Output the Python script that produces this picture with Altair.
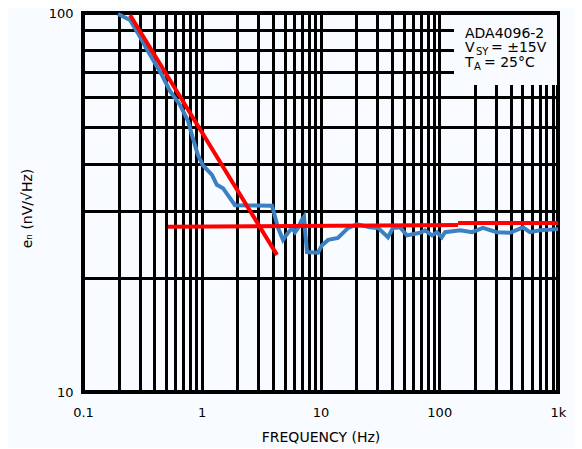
import altair as alt
import pandas as pd

# Measured noise trace (blue)
blue_f = [0.197, 0.249, 0.290, 0.352, 0.463, 0.541, 0.656, 0.766, 0.828, 0.929,
          1.02, 1.22, 1.34, 1.51, 1.905, 3.91, 4.39, 4.83, 5.32, 5.75, 6.10,
          6.47, 6.98, 7.26, 7.69, 9.53, 10.3, 11.6, 14.0, 17.1, 20.3, 26.1,
          30.5, 37.0, 40.8, 46.7, 53.4, 68.9, 75.9, 86.9, 95.7, 105, 112, 150,
          189, 233, 306, 394, 507, 581, 705, 1000]
blue_e = [99.4, 95.8, 88.5, 79.4, 68.5, 62.2, 57.2, 51.9, 47.6, 42.2,
          39.7, 37.4, 35.2, 34.5, 31.1, 31.0, 27.1, 25.2, 26.3, 27.1, 26.4,
          27.1, 28.5, 29.0, 23.4, 23.3, 24.4, 25.2, 25.5, 27.1, 27.7, 27.2,
          27.1, 25.6, 27.1, 27.2, 25.9, 26.3, 26.7, 25.9, 26.4, 25.6, 26.4, 26.7,
          26.4, 27.1, 26.4, 26.3, 27.2, 26.4, 26.7, 26.9]

# Fitted asymptotes (red)
red1_f = [0.249, 4.30]
red1_e = [98.8, 23.0]
red2_f = [0.52, 144]
red2_e = [27.3, 27.6]
red3_f = [144, 1000]
red3_e = [27.9, 27.9]

x_grid = [0.1, 0.2, 0.3, 0.4, 0.5, 0.6, 0.7, 0.8, 0.9,
          1, 2, 3, 4, 5, 6, 7, 8, 9,
          10, 20, 30, 40, 50, 60, 70, 80, 90,
          100, 200, 300, 400, 500, 600, 700, 800, 900, 1000]
x_major = [0.1, 1, 10, 100, 1000]
x_major_labels = ["0.1", "1", "10", "100", "1k"]
y_grid = [10, 20, 30, 40, 50, 60, 70, 80, 90, 100]
y_major = [10, 100]
y_major_labels = ["10", "100"]

BG = "#f8fbff"
FONT = "DejaVu Sans"


def label_expr(vals, labs):
    expr = "''"
    for v, l in reversed(list(zip(vals, labs))):
        expr = f"datum.value == {v} ? '{l}' : ({expr})"
    return expr


rows = []
for f, e in zip(blue_f, blue_e):
    rows.append({"f": f, "e": e, "series": "a_meas", "seg": "m"})
for name, fs, es in [("r1", red1_f, red1_e), ("r2", red2_f, red2_e), ("r3", red3_f, red3_e)]:
    for f, e in zip(fs, es):
        rows.append({"f": f, "e": e, "series": "b_fit", "seg": name})
df = pd.DataFrame(rows)

lines = alt.Chart(df).mark_line(strokeWidth=4).encode(
    x=alt.X("f:Q",
            scale=alt.Scale(type="log", domain=[0.1, 1000], nice=False),
            axis=alt.Axis(values=x_grid, labelExpr=label_expr(x_major, x_major_labels),
                          title="FREQUENCY (Hz)", grid=True, gridColor="black",
                          gridWidth=3, gridOpacity=1, ticks=False, domain=False,
                          labelFont=FONT, labelFontSize=13, labelColor="black",
                          labelPadding=14, labelFlush=False, labelOverlap=False,
                          titleFont=FONT, titleFontSize=14, titleFontWeight="normal",
                          titleColor="black", titlePadding=11)),
    y=alt.Y("e:Q",
            scale=alt.Scale(type="log", domain=[10, 100], nice=False),
            axis=alt.Axis(values=y_grid, labelExpr=label_expr(y_major, y_major_labels),
                          title="eₙ (nV/√Hz)", grid=True, gridColor="black",
                          gridWidth=3, gridOpacity=1, ticks=False, domain=False,
                          labelFont=FONT, labelFontSize=13, labelColor="black",
                          labelPadding=10, labelOverlap=False, labelFlush=False,
                          titleFont=FONT, titleFontSize=14, titleFontWeight="normal",
                          titleColor="black", titleX=-56, titleY=195, titleAngle=270,
                          titleAlign="center", titleBaseline="middle")),
    color=alt.Color("series:N", scale=alt.Scale(domain=["a_meas", "b_fit"],
                                                range=["#3a80c2", "#ff0000"]), legend=None),
    detail="seg:N",
    order=alt.Order("f:Q"),
)

one = pd.DataFrame({"k": [0]})

box = alt.Chart(one).mark_rect(fill=BG).encode(
    x=alt.value(371), x2=alt.value(474), y=alt.value(2), y2=alt.value(72))


def txt(s, x, y, size=14):
    return alt.Chart(one).mark_text(text=s, font=FONT, fontSize=size, align="left",
                                    baseline="alphabetic", color="black").encode(
        x=alt.value(x), y=alt.value(y))


texts = [
    txt("ADA4096-2", 382, 25),
    txt("V", 382, 39),
    txt("SY", 393, 42, 10),
    txt("= ±15V", 408, 39),
    txt("T", 382, 54),
    txt("A", 391, 57, 10),
    txt("= 25°C", 401, 54),
]

chart = alt.layer(lines, box, *texts).properties(
    width=475, height=379,
    autosize=alt.AutoSizeParams(type="none"),
    padding={"left": 75, "top": 5, "right": 16, "bottom": 56},
    background=BG,
).configure_view(stroke="black", strokeWidth=4)

chart.save("out.html", embed_options={"renderer": "svg", "actions": False})
